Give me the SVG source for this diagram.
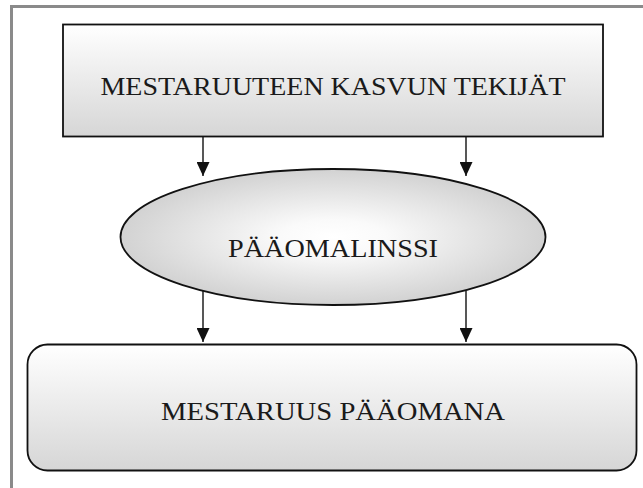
<svg xmlns="http://www.w3.org/2000/svg" width="643" height="488" viewBox="0 0 643 488">
  <style>
    .frame { fill: none; stroke: #8a8a8a; stroke-width: 3; }
    .box { stroke: #111; stroke-width: 1.8; }
    .label { font-family: "Liberation Serif", "Times New Roman", serif; font-size: 26px; fill: #1a1a1a; text-anchor: middle; }
    .conn { stroke: #111; stroke-width: 1.4; fill: none; marker-end: url(#arrow); }
  </style>
  <defs>
    <linearGradient id="boxFill" x1="0" y1="0" x2="0" y2="1">
      <stop offset="0" stop-color="#ffffff"/>
      <stop offset="1" stop-color="#d6d6d6"/>
    </linearGradient>
    <radialGradient id="lensFill" cx="0.5" cy="0.5" r="0.5">
      <stop offset="0" stop-color="#ffffff"/>
      <stop offset="0.25" stop-color="#fafafa"/>
      <stop offset="1" stop-color="#d2d2d2"/>
    </radialGradient>
    <marker id="arrow" viewBox="0 0 14 13" refX="14" refY="6.5" markerWidth="14" markerHeight="13" markerUnits="userSpaceOnUse" orient="auto">
      <path d="M0,0 L14,6.5 L0,13 Z" fill="#111"/>
    </marker>
  </defs>

  <!-- page frame -->
  <path class="frame" d="M11.5,488 V6.5 H643"/>

  <g id="kasvun-tekijat">
    <rect class="box" x="63" y="24.5" width="540" height="112" fill="url(#boxFill)"/>
    <text class="label" x="333" y="95" textLength="465" lengthAdjust="spacingAndGlyphs">MESTARUUTEEN KASVUN TEKIJÄT</text>
  </g>

  <g id="paaomalinssi">
    <ellipse class="box" cx="333" cy="237" rx="212.5" ry="68" fill="url(#lensFill)" stroke-width="1.6"/>
    <text class="label" x="333" y="257" textLength="210" lengthAdjust="spacingAndGlyphs">PÄÄOMALINSSI</text>
  </g>

  <g id="mestaruus-paaomana">
    <rect class="box" x="27.5" y="344.5" width="609" height="126" rx="20" ry="20" fill="url(#boxFill)"/>
    <text class="label" x="333" y="420" textLength="344" lengthAdjust="spacingAndGlyphs">MESTARUUS PÄÄOMANA</text>
  </g>

  <g id="connectors">
    <line class="conn" x1="203" y1="137" x2="203" y2="176"/>
    <line class="conn" x1="466" y1="137" x2="466" y2="176"/>
    <line class="conn" x1="203" y1="291" x2="203" y2="342"/>
    <line class="conn" x1="466" y1="291" x2="466" y2="342"/>
  </g>
</svg>
